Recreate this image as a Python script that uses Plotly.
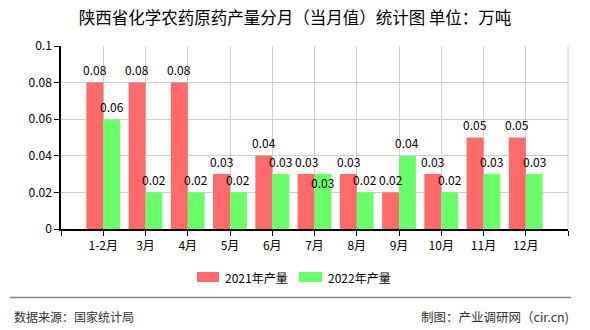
import plotly.graph_objects as go

categories = ["1-2月", "3月", "4月", "5月", "6月", "7月", "8月", "9月", "10月", "11月", "12月"]
series_names = ["2021年产量", "2022年产量"]
values_2021 = [0.08, 0.08, 0.08, 0.03, 0.04, 0.03, 0.03, 0.02, 0.03, 0.05, 0.05]
values_2022 = [0.06, 0.02, 0.02, 0.02, 0.03, 0.03, 0.02, 0.04, 0.02, 0.03, 0.03]
y_ticks = [0, 0.02, 0.04, 0.06, 0.08, 0.1]

title = "陕西省化学农药原药产量分月（当月值）统计图 单位：万吨"
source_text = "数据来源：国家统计局"
credit_text = "制图：产业调研网（cir.cn)"

colors = ["#ff6a6a", "#6aff6a"]
FONT = "Noto Sans CJK SC, Noto Sans, sans-serif"

W, H = 590, 330
L, R, T, B = 61, 22, 46, 101
PW, PH = W - L - R, H - T - B

def px_x(p):
    return (p - L) / PW

def px_y(p):
    return (H - B - p) / PH

xs = list(range(len(categories)))
fig = go.Figure()
series = [values_2021, values_2022]
offsets = [-0.4, 0.0]
for name, vals, col, off in zip(series_names, series, colors, offsets):
    fig.add_trace(go.Bar(
        x=xs, y=vals, name=name, marker=dict(color=col, line=dict(width=0)),
        width=0.4, offset=off, showlegend=False, hoverinfo="x+y"))

# value labels
label_shift_override = {(1, 5): -8}
annotations = []
for si, (vals, off) in enumerate(zip(series, offsets)):
    for i, v in enumerate(vals):
        annotations.append(dict(
            x=i + off + 0.2, y=v, xref="x", yref="y", text=f"{v:g}",
            showarrow=False, yshift=label_shift_override.get((si, i), 13),
            font=dict(family=FONT, size=12, color="#000000")))

# legend (manual, wide swatches)
legend_items = [(197, 219, 223), (299, 322, 326)]
shapes = []
for (x0, x1, tx), name, col in zip(legend_items, series_names, colors):
    shapes.append(dict(type="rect", xref="paper", yref="paper",
                       x0=px_x(x0), x1=px_x(x1), y0=px_y(282), y1=px_y(272),
                       fillcolor=col, line=dict(width=0)))
    annotations.append(dict(x=px_x(tx), y=px_y(277), xref="paper", yref="paper",
                            text=name, showarrow=False, xanchor="left", yanchor="middle",
                            font=dict(family=FONT, size=12, color="#000000")))

# footer line and texts
shapes.append(dict(type="line", xref="paper", yref="paper",
                   x0=px_x(10), x1=px_x(571), y0=px_y(297.5), y1=px_y(297.5),
                   line=dict(color="#888888", width=1.5)))
# right border gridline
shapes.append(dict(type="line", xref="paper", yref="paper", x0=1, x1=1, y0=0, y1=1,
                   line=dict(color="#d0d0d0", width=1), layer="below"))
annotations.append(dict(x=px_x(12), y=px_y(316), xref="paper", yref="paper", text=source_text,
                        showarrow=False, xanchor="left", yanchor="middle",
                        font=dict(family=FONT, size=12, color="#333333")))
annotations.append(dict(x=px_x(571), y=px_y(316), xref="paper", yref="paper", text=credit_text,
                        showarrow=False, xanchor="right", yanchor="middle",
                        font=dict(family=FONT, size=12.5, color="#333333")))

fig.update_layout(
    width=W, height=H, margin=dict(l=L, r=R, t=T, b=B, pad=0),
    paper_bgcolor="white", plot_bgcolor="white",
    title=dict(text=title, x=0.5, xref="container", y=1 - 18 / H, yref="container",
               xanchor="center", yanchor="middle",
               font=dict(family=FONT, size=16.5, color="#000000")),
    font=dict(family=FONT, size=12, color="#000000"),
    barmode="overlay", showlegend=False,
    annotations=annotations, shapes=shapes,
    xaxis=dict(range=[-1, len(categories)], tickmode="array",
               tickvals=list(range(-1, len(categories) + 1)),
               ticktext=[""] + categories + [""],
               showgrid=True, gridcolor="#d0d0d0", gridwidth=1,
               showline=True, linecolor="#000000", linewidth=1.5,
               ticks="outside", ticklen=5, tickcolor="#000000",
               tickfont=dict(family=FONT, size=12, color="#000000"),
               zeroline=False, fixedrange=True),
    yaxis=dict(range=[0, 0.1], tickmode="array", tickvals=y_ticks,
               ticktext=[f"{t:g}" for t in y_ticks],
               showgrid=True, gridcolor="#d0d0d0", gridwidth=1,
               showline=True, linecolor="#000000", linewidth=1.5,
               ticks="outside", ticklen=5, tickcolor="#000000",
               tickfont=dict(family=FONT, size=12, color="#000000"),
               zeroline=False, fixedrange=True),
)

fig.write_html("out.html", config={"displayModeBar": False})
